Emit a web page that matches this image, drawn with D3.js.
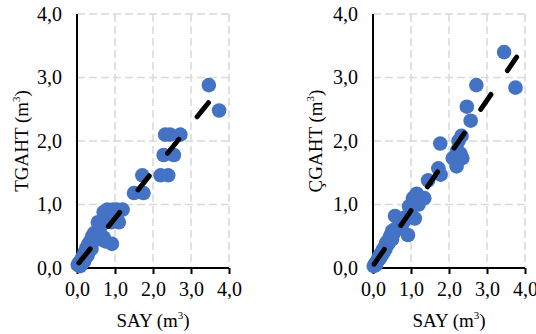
<!DOCTYPE html>
<html><head><meta charset="utf-8">
<script src="https://cdn.jsdelivr.net/npm/d3@7"></script>
<style>
html,body{margin:0;padding:0;background:#fff;}
svg{display:block;font-family:"Liberation Serif","Times New Roman",serif;}
</style></head>
<body><svg id="c" width="536" height="334"></svg>
<script>
// ---- data ----
const tickValues = [0, 1, 2, 3, 4];
const tickLabels = ["0,0", "1,0", "2,0", "3,0", "4,0"];

const sayLeft = [0.02,0.05,0.08,0.10,0.12,0.15,0.18,0.20,0.22,0.25,0.28,0.30,0.32,0.35,0.38,0.40,0.45,0.50,0.55,0.60,0.55,0.65,0.70,0.75,0.80,0.70,0.92,0.90,0.95,1.05,1.20,1.10,1.00,1.50,1.75,1.72,2.20,2.40,2.28,2.55,2.32,2.45,2.72,3.47,3.74];
const tgaht   = [0.05,0.08,0.03,0.12,0.06,0.18,0.10,0.25,0.15,0.32,0.20,0.38,0.28,0.42,0.30,0.50,0.55,0.50,0.45,0.55,0.72,0.68,0.48,0.42,0.92,0.88,0.38,0.72,0.92,0.92,0.92,0.72,0.80,1.18,1.18,1.46,1.46,1.46,1.78,1.78,2.10,2.10,2.10,2.88,2.48];

const sayRight = [0.02,0.05,0.08,0.10,0.13,0.15,0.18,0.20,0.23,0.25,0.28,0.30,0.33,0.35,0.40,0.42,0.45,0.50,0.50,0.55,0.60,0.58,0.70,0.75,0.80,0.85,0.92,0.95,1.00,1.05,1.10,1.15,1.20,1.35,1.45,1.72,1.78,1.77,2.10,2.20,2.22,2.25,2.35,2.30,2.33,2.47,2.57,2.72,3.45,3.75];
const cgaht    = [0.03,0.06,0.05,0.10,0.12,0.17,0.15,0.22,0.20,0.28,0.25,0.33,0.30,0.40,0.38,0.45,0.50,0.45,0.58,0.55,0.62,0.82,0.75,0.68,0.72,0.80,0.52,0.97,0.85,1.10,0.78,1.17,1.00,1.10,1.38,1.57,1.47,1.96,1.73,1.60,1.85,2.00,1.73,1.80,2.08,2.54,2.32,2.88,3.40,2.84];

// trend lines: [x0, x1] and [y0, y1] in data units
const trendLeftX  = [0.05, 3.55];
const trendLeftY  = [0.08, 2.67];
const trendRightX = [0.03, 3.78];
const trendRightY = [0.06, 3.32];

const panels = [
  {xs: sayLeft, ys: tgaht, tx: trendLeftX, ty: trendLeftY, x0: 77, x1: 229, ytitle: "TGAHT (m", ytx: 22},
  {xs: sayRight, ys: cgaht, tx: trendRightX, ty: trendRightY, x0: 373, x1: 525, ytitle: "ÇGAHT (m", ytx: 316}
];

const svg = d3.select("#c");
const yTop = 14, yBot = 268;
const blue = "#4472C4";

panels.forEach(p => {
  const x = d3.scaleLinear().domain([0, 4]).range([p.x0, p.x1]);
  const y = d3.scaleLinear().domain([0, 4]).range([yBot, yTop]);
  const g = svg.append("g");

  // gridlines
  g.selectAll("line.vg").data(tickValues.slice(1)).join("line")
    .attr("x1", d => x(d)).attr("x2", d => x(d)).attr("y1", yTop).attr("y2", yBot)
    .attr("stroke", "#d9d9d9").attr("stroke-width", 1.5).attr("stroke-dasharray", "8,4");
  g.selectAll("line.hg").data(tickValues.slice(1)).join("line")
    .attr("y1", d => y(d)).attr("y2", d => y(d)).attr("x1", p.x0).attr("x2", p.x1)
    .attr("stroke", "#d9d9d9").attr("stroke-width", 1.5).attr("stroke-dasharray", "8,4");

  // x axis
  const xa = g.append("g").attr("transform", `translate(0,${yBot})`)
    .call(d3.axisBottom(x).tickValues(tickValues).tickFormat((d, i) => tickLabels[i]).tickSize(6).tickPadding(8));
  xa.select(".domain").attr("stroke", "#000").attr("stroke-width", 2).attr("d", `M${p.x0},0H${p.x1}`);
  xa.selectAll(".tick line").attr("stroke", "#000").attr("stroke-width", 2);
  xa.selectAll(".tick text").attr("font-size", 20).attr("font-family", "Liberation Serif").attr("fill", "#000");

  // y axis
  const ya = g.append("g").attr("transform", `translate(${p.x0},0)`)
    .call(d3.axisLeft(y).tickValues(tickValues).tickFormat((d, i) => tickLabels[i]).tickSize(0).tickPadding(15));
  ya.select(".domain").attr("stroke", "#000").attr("stroke-width", 2).attr("d", `M0,${yTop}V${yBot}`);
  ya.selectAll(".tick text").attr("font-size", 20).attr("font-family", "Liberation Serif").attr("fill", "#000");

  // points
  g.selectAll("circle").data(p.xs.map((v, i) => [v, p.ys[i]])).join("circle")
    .attr("cx", d => x(d[0])).attr("cy", d => y(d[1])).attr("r", 7.3).attr("fill", blue);

  // trend line
  g.append("path")
    .datum(p.tx.map((v, i) => [v, p.ty[i]]))
    .attr("d", d3.line().x(d => x(d[0])).y(d => y(d[1])))
    .attr("stroke", "#000").attr("stroke-width", 5).attr("fill", "none")
    .attr("stroke-linecap", "round").attr("stroke-dasharray", "18,29");

  // x title
  const xt = g.append("text").attr("x", (p.x0 + p.x1) / 2).attr("y", 327)
    .attr("text-anchor", "middle").attr("font-size", 19).attr("fill", "#000");
  xt.append("tspan").text("SAY (m");
  xt.append("tspan").text("3").attr("font-size", 11).attr("dy", -8);
  xt.append("tspan").text(")").attr("dy", 8);

  // y title
  const yt = g.append("text").attr("transform", `translate(${p.ytx + 6},141) rotate(-90)`)
    .attr("text-anchor", "middle").attr("font-size", 19).attr("fill", "#000");
  yt.append("tspan").text(p.ytitle);
  yt.append("tspan").text("3").attr("font-size", 11).attr("dy", -8);
  yt.append("tspan").text(")").attr("dy", 8);
});
</script></body></html>
